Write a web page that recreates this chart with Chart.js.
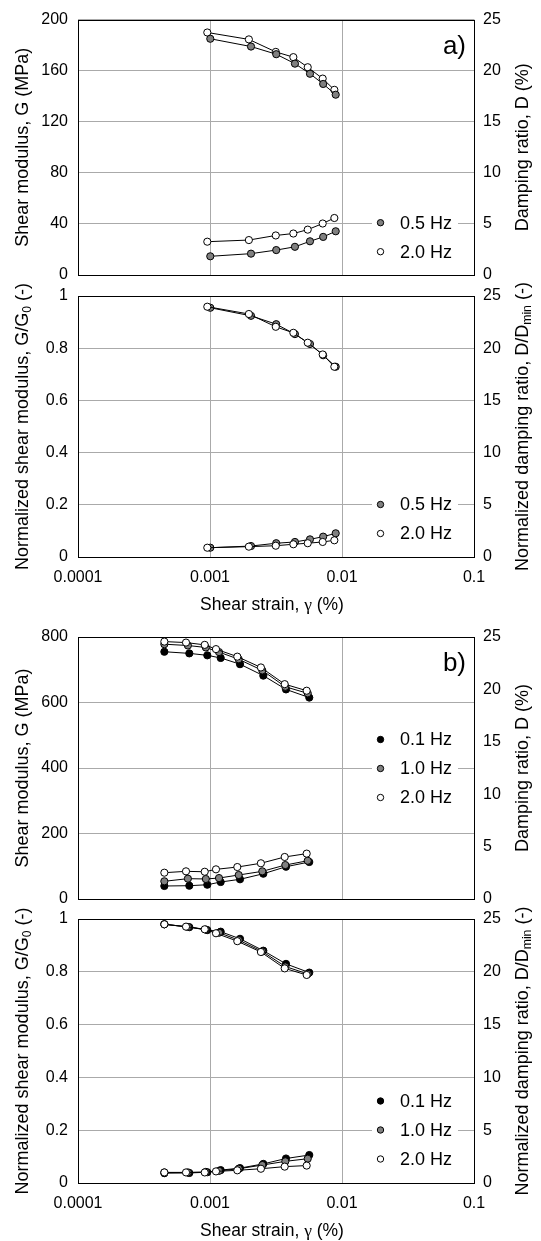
<!DOCTYPE html>
<html><head><meta charset="utf-8">
<script src="https://cdn.jsdelivr.net/npm/chart.js@4.4.1/dist/chart.umd.min.js"></script>
<style>
html,body{margin:0;padding:0;background:#fff;}
#wrap{position:relative;width:541px;height:1241px;overflow:hidden;background:#fff;}
canvas{position:absolute;left:0;top:0;}
</style></head><body><div id="wrap">
<canvas id="c1" width="541" height="1241"></canvas>
<canvas id="c2" width="541" height="1241"></canvas>
<canvas id="c3" width="541" height="1241"></canvas>
<canvas id="c4" width="541" height="1241"></canvas>
</div>
<script>
// ---- tick values / labels ----
const xTickValues = [0.0001, 0.001, 0.01, 0.1];
const xTickLabels = ['0.0001', '0.001', '0.01', '0.1'];
const gTicksA = [0, 40, 80, 120, 160, 200];
const gTicksB = [0, 200, 400, 600, 800];
const ratioTicks = [0, 0.2, 0.4, 0.6, 0.8, 1];
const ratioLabels = ['0', '0.2', '0.4', '0.6', '0.8', '1'];
const dTicks = [0, 5, 10, 15, 20, 25];

// ---- panel a) : 0.5 Hz and 2.0 Hz ----
const strainA_05 = [0.001005, 0.002045, 0.003175, 0.0044, 0.00572, 0.0072, 0.00896];
const strainA_20 = [0.000954, 0.00197, 0.00315, 0.00428, 0.0055, 0.00714, 0.00875];
const gA_05 = [185, 178.9, 172.9, 165.5, 157.6, 149.6, 141.2];
const gA_20 = [189.9, 184.5, 174.7, 170.6, 162.7, 153.8, 145];
const dA_05 = [1.83, 2.09, 2.44, 2.76, 3.30, 3.73, 4.28];
const dA_20 = [3.26, 3.42, 3.87, 4.06, 4.44, 5.04, 5.58];
const gRatioA_05 = [0.955, 0.924, 0.892, 0.854, 0.816, 0.773, 0.729];
const gRatioA_20 = [0.959, 0.931, 0.882, 0.859, 0.821, 0.776, 0.729];
const dRatioA_05 = [0.89, 1.05, 1.32, 1.44, 1.69, 1.95, 2.27];
const dRatioA_20 = [0.89, 0.99, 1.08, 1.22, 1.32, 1.44, 1.60];

// ---- panel b) : 0.1, 1.0 and 2.0 Hz ----
const strainB_01 = [0.000451, 0.000697, 0.000954, 0.001205, 0.001688, 0.002535, 0.003765, 0.00565];
const strainB_10 = [0.000451, 0.00068, 0.00093, 0.00117, 0.00165, 0.00249, 0.00372, 0.0055];
const strainB_20 = [0.000451, 0.000658, 0.000912, 0.00111, 0.00161, 0.00243, 0.00368, 0.0054];
const gB_01 = [755, 750, 744, 736, 717, 682, 640, 615];
const gB_10 = [778, 774, 768, 754, 732, 698, 648, 628];
const gB_20 = [786, 783, 776, 763, 740, 707, 656, 636];
const dB_01 = [1.24, 1.27, 1.36, 1.62, 1.88, 2.41, 3.08, 3.53];
const dB_10 = [1.69, 1.94, 1.91, 2.00, 2.29, 2.64, 3.24, 3.65];
const dB_20 = [2.51, 2.64, 2.60, 2.83, 3.05, 3.41, 4.01, 4.33];
const gRatioB_01 = [0.98, 0.969, 0.958, 0.952, 0.925, 0.880, 0.830, 0.797];
const gRatioB_10 = [0.98, 0.970, 0.960, 0.948, 0.920, 0.877, 0.820, 0.792];
const gRatioB_20 = [0.98, 0.971, 0.961, 0.946, 0.916, 0.875, 0.813, 0.788];
const dRatioB_01 = [0.93, 0.95, 1.02, 1.22, 1.41, 1.81, 2.32, 2.65];
const dRatioB_10 = [1.00, 1.00, 1.05, 1.15, 1.35, 1.70, 2.05, 2.30];
const dRatioB_20 = [1.00, 1.00, 1.00, 1.10, 1.20, 1.35, 1.55, 1.65];

const FONT = "'Liberation Sans', Arial, sans-serif";
const SERIF = "'Liberation Serif', 'Times New Roman', serif";
const WHITE = '#ffffff', GRAY = '#808080', BLACK = '#000000';
const X_H = 30;

function pts(xs, ys) { return xs.map((x, i) => ({ x: x, y: ys[i] })); }
function ds(xs, ys, axis, fill, order) {
  return {
    data: pts(xs, ys), yAxisID: axis, showLine: true, borderColor: '#000', borderWidth: 1,
    pointRadius: 3.6, pointHoverRadius: 3.6, pointBackgroundColor: fill, pointBorderColor: '#000',
    pointBorderWidth: 1, order: order
  };
}

function drawRotTitle(ctx, segs, cx, cy, size) {
  ctx.save();
  ctx.translate(cx, cy);
  ctx.rotate(-Math.PI / 2);
  ctx.textBaseline = 'middle';
  ctx.fillStyle = '#000';
  let total = 0;
  const m = segs.map(s => {
    const fs = s.sub ? size * 0.68 : size;
    ctx.font = fs + 'px ' + (s.serif ? SERIF : FONT);
    const w = ctx.measureText(s.t).width;
    total += w;
    return { s, fs, w };
  });
  let x = -total / 2;
  m.forEach(o => {
    ctx.font = o.fs + 'px ' + (o.s.serif ? SERIF : FONT);
    ctx.textAlign = 'left';
    ctx.fillText(o.s.t, x, o.s.sub ? size * 0.28 : 0);
    x += o.w;
  });
  ctx.restore();
}
function drawHTitle(ctx, segs, cx, cy, size) {
  ctx.save();
  ctx.textBaseline = 'middle';
  ctx.fillStyle = '#000';
  let total = 0;
  const m = segs.map(s => {
    ctx.font = size + 'px ' + (s.serif ? SERIF : FONT);
    const w = ctx.measureText(s.t).width; total += w; return { s, w };
  });
  let x = cx - total / 2;
  m.forEach(o => {
    ctx.font = size + 'px ' + (o.s.serif ? SERIF : FONT);
    ctx.textAlign = 'left';
    ctx.fillText(o.s.t, x, cy);
    x += o.w;
  });
  ctx.restore();
}

const deco = {
  id: 'deco',
  beforeDatasetsDraw(chart) {
    const a = chart.chartArea, ctx = chart.ctx;
    ctx.save();
    ctx.strokeStyle = '#000'; ctx.lineWidth = 1;
    ctx.strokeRect(Math.round(a.left) + 0.5, Math.round(a.top) + 0.5, Math.round(a.right - a.left), Math.round(a.bottom - a.top));
    ctx.restore();
  },
  afterDraw(chart) {
    const c = chart.options.plugins.deco, ctx = chart.ctx, a = chart.chartArea;
    const lg = c.legend;
    ctx.save();
    ctx.fillStyle = '#fff';
    ctx.fillRect(372, lg.y - 14, 86, lg.items.length * 29);
    lg.items.forEach((it, i) => {
      const y = lg.y + i * 29;
      ctx.beginPath();
      ctx.arc(380.5, y, 3.2, 0, Math.PI * 2);
      ctx.fillStyle = it.fill; ctx.fill();
      ctx.lineWidth = 1; ctx.strokeStyle = '#000'; ctx.stroke();
      ctx.fillStyle = '#000';
      ctx.font = '18px ' + FONT;
      ctx.textAlign = 'left'; ctx.textBaseline = 'middle';
      ctx.fillText(it.label, 400, y + 1);
    });
    if (c.label) {
      ctx.font = '26px ' + FONT;
      ctx.textAlign = 'right'; ctx.textBaseline = 'alphabetic';
      ctx.fillText(c.label, 466, a.top + 34);
    }
    ctx.restore();
    const cy = (a.top + a.bottom) / 2;
    drawRotTitle(ctx, c.leftTitle, 23, cy, 18);
    drawRotTitle(ctx, c.rightTitle, 523, cy, 18);
    if (c.showX) {
      drawHTitle(ctx, [{ t: 'Shear strain, ' }, { t: 'γ', serif: true }, { t: ' (%)' }], 272, a.bottom + 48, 17.5);
    }
  }
};

function panel(id, cfg) {
  const tickFont = { family: FONT, size: 16 };
  new Chart(document.getElementById(id), {
    type: 'scatter',
    data: { datasets: cfg.datasets },
    options: {
      responsive: false, animation: false, events: [],
      layout: { padding: { top: cfg.top, bottom: 1241 - cfg.bottom - X_H, left: 0, right: 0 } },
      plugins: { legend: { display: false }, tooltip: { enabled: false }, deco: cfg },
      scales: {
        x: {
          type: 'logarithmic', min: 0.0001, max: 0.1, position: 'bottom',
          afterBuildTicks: s => { s.ticks = xTickValues.map(v => ({ value: v })); },
          afterFit: s => { s.height = X_H; },
          grid: { color: '#aaaaaa', lineWidth: 1, drawTicks: false },
          border: { display: false },
          ticks: { display: cfg.showX, autoSkip: false, maxRotation: 0, padding: 11, color: '#000', font: tickFont,
            callback: (v, i) => xTickLabels[i] }
        },
        y: {
          type: 'linear', position: 'left', min: 0, max: cfg.yMax,
          afterBuildTicks: s => { s.ticks = cfg.yTicks.map(v => ({ value: v })); },
          afterFit: s => { s.width = 78; },
          grid: { color: '#aaaaaa', lineWidth: 1, drawTicks: false },
          border: { display: false },
          ticks: { padding: 10, color: '#000', font: tickFont, callback: (v, i) => cfg.yLabels[i] }
        },
        y1: {
          type: 'linear', position: 'right', min: 0, max: 25,
          afterBuildTicks: s => { s.ticks = dTicks.map(v => ({ value: v })); },
          afterFit: s => { s.width = 67; },
          grid: { display: false, drawTicks: false },
          border: { display: false },
          ticks: { padding: 9, color: '#000', font: tickFont, callback: (v, i) => String(dTicks[i]) }
        }
      }
    },
    plugins: [deco]
  });
}

const legA = [{ fill: GRAY, label: '0.5 Hz' }, { fill: WHITE, label: '2.0 Hz' }];
const legB = [{ fill: BLACK, label: '0.1 Hz' }, { fill: GRAY, label: '1.0 Hz' }, { fill: WHITE, label: '2.0 Hz' }];

panel('c1', {
  top: 12, bottom: 275, showX: false, yMax: 200, yTicks: gTicksA, yLabels: gTicksA.map(String),
  label: 'a)', legend: { y: 222.7, items: legA },
  leftTitle: [{ t: 'Shear modulus, G (MPa)' }], rightTitle: [{ t: 'Damping ratio, D (%)' }],
  datasets: [
    ds(strainA_05, gA_05, 'y', GRAY, 1), ds(strainA_20, gA_20, 'y', WHITE, 2),
    ds(strainA_05, dA_05, 'y1', GRAY, 1), ds(strainA_20, dA_20, 'y1', WHITE, 2)
  ]
});
panel('c2', {
  top: 296, bottom: 557, showX: true, yMax: 1, yTicks: ratioTicks, yLabels: ratioLabels,
  label: null, legend: { y: 504.5, items: legA },
  leftTitle: [{ t: 'Normalized shear modulus, G/G' }, { t: '0', sub: true }, { t: ' (-)' }],
  rightTitle: [{ t: 'Normalized damping ratio, D/D' }, { t: 'min', sub: true }, { t: ' (-)' }],
  datasets: [
    ds(strainA_05, gRatioA_05, 'y', GRAY, 2), ds(strainA_20, gRatioA_20, 'y', WHITE, 1),
    ds(strainA_05, dRatioA_05, 'y1', GRAY, 2), ds(strainA_20, dRatioA_20, 'y1', WHITE, 1)
  ]
});
panel('c3', {
  top: 637, bottom: 899, showX: false, yMax: 800, yTicks: gTicksB, yLabels: gTicksB.map(String),
  label: 'b)', legend: { y: 739.5, items: legB },
  leftTitle: [{ t: 'Shear modulus, G (MPa)' }], rightTitle: [{ t: 'Damping ratio, D (%)' }],
  datasets: [
    ds(strainB_01, gB_01, 'y', BLACK, 3), ds(strainB_10, gB_10, 'y', GRAY, 2), ds(strainB_20, gB_20, 'y', WHITE, 1),
    ds(strainB_01, dB_01, 'y1', BLACK, 3), ds(strainB_10, dB_10, 'y1', GRAY, 2), ds(strainB_20, dB_20, 'y1', WHITE, 1)
  ]
});
panel('c4', {
  top: 919, bottom: 1183, showX: true, yMax: 1, yTicks: ratioTicks, yLabels: ratioLabels,
  label: null, legend: { y: 1101, items: legB },
  leftTitle: [{ t: 'Normalized shear modulus, G/G' }, { t: '0', sub: true }, { t: ' (-)' }],
  rightTitle: [{ t: 'Normalized damping ratio, D/D' }, { t: 'min', sub: true }, { t: ' (-)' }],
  datasets: [
    ds(strainB_01, gRatioB_01, 'y', BLACK, 3), ds(strainB_10, gRatioB_10, 'y', GRAY, 2), ds(strainB_20, gRatioB_20, 'y', WHITE, 1),
    ds(strainB_01, dRatioB_01, 'y1', BLACK, 3), ds(strainB_10, dRatioB_10, 'y1', GRAY, 2), ds(strainB_20, dRatioB_20, 'y1', WHITE, 1)
  ]
});
</script></body></html>
